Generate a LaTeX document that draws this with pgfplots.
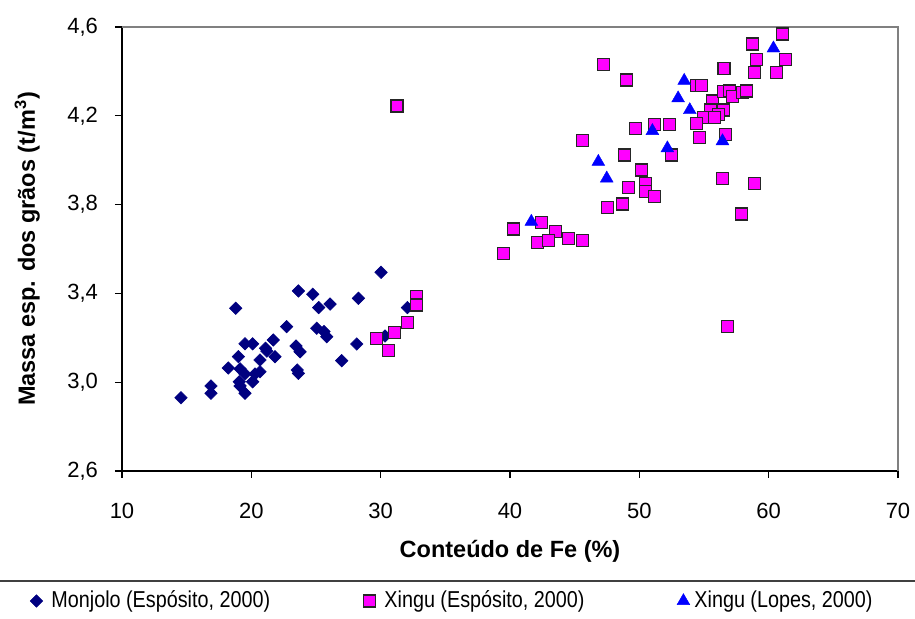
\documentclass[border=0pt]{standalone}
\usepackage{pgfplots}
\pgfplotsset{compat=1.18}
\usepackage{pgfplotstable}
\usepackage{fontspec}
\setmainfont{Liberation Sans}
\newfontfamily\legendfont[FakeStretch=0.86]{Liberation Sans}

\definecolor{monjolo}{HTML}{000080}
\definecolor{xinguE}{HTML}{FF00FF}
\definecolor{xinguL}{HTML}{0000FF}
\definecolor{plotframe}{HTML}{808080}

% Monjolo (Espósito, 2000)
\pgfplotstableread{
fe rho
14.56 2.930
16.88 2.983
16.88 2.950
18.79 3.333
18.22 3.064
19.00 3.115
19.51 3.173
20.10 3.173
19.13 3.060
19.51 3.037
19.07 3.002
19.13 2.983
19.51 2.950
20.10 3.002
20.29 3.037
20.67 3.047
20.67 3.100
21.10 3.153
21.20 3.140
21.70 3.190
21.83 3.115
22.73 3.250
23.64 3.411
23.46 3.163
23.77 3.137
23.64 3.040
23.55 3.055
24.75 3.396
25.21 3.336
26.09 3.352
25.06 3.243
25.62 3.228
25.83 3.205
26.99 3.097
28.28 3.378
28.15 3.172
30.03 3.495
32.07 3.336
30.34 3.208
}\monjolodata

% Xingu (Espósito, 2000)
\pgfplotstableread{
fe rho
29.70 3.198
30.60 3.141
31.04 3.223
32.07 3.268
32.80 3.385
32.80 3.348
31.27 4.244
40.26 3.690
39.49 3.580
42.46 3.719
43.49 3.678
42.15 3.630
42.97 3.640
44.52 3.648
45.60 3.640
47.56 3.786
48.69 3.803
49.16 3.878
61.07 4.568
58.75 4.523
59.03 4.454
61.33 4.454
58.88 4.396
60.63 4.396
56.54 4.414
47.22 4.432
48.98 4.361
54.39 4.336
54.83 4.336
55.68 4.267
56.50 4.309
57.00 4.312
57.20 4.286
58.00 4.304
58.31 4.312
56.50 4.226
55.52 4.226
56.12 4.207
54.96 4.193
55.81 4.193
54.39 4.166
54.65 4.101
56.69 4.117
49.68 4.144
51.17 4.159
52.33 4.159
45.60 4.088
52.46 4.023
48.83 4.023
50.14 3.956
50.45 3.896
50.45 3.858
51.17 3.836
56.43 3.918
58.88 3.896
57.90 3.758
56.84 3.250
}\xinguEdata

% Xingu (Lopes, 2000)
\pgfplotstableread{
fe rho
41.65 3.723
53.47 4.358
53.00 4.279
53.90 4.226
56.43 4.086
51.01 4.132
52.17 4.054
46.83 3.993
47.48 3.918
60.37 4.504
}\xinguLdata

\begin{document}
\begin{tikzpicture}
\useasboundingbox (-61pt,-74pt) rectangle (396.5pt,235.5pt);
\begin{axis}[
  at={(0pt,0pt)}, anchor=south west,
  width=388pt, height=222pt, scale only axis,
  xmin=10, xmax=70, ymin=2.6, ymax=4.6,
  xtick={10,20,30,40,50,60,70},
  ytick={2.6,3.0,3.4,3.8,4.2,4.6},
  axis x line*=bottom, axis y line*=left,
  axis line style={-, black, line width=0.6pt},
  tick align=outside,
  major tick length=3.5pt,
  every tick/.style={black, line width=0.6pt},
  /pgf/number format/assume math mode=true,
  ticklabel style={font=\fontsize{11}{13}\selectfont, black},
  xticklabel style={yshift=-9pt},
  yticklabel style={xshift=-5pt, /pgf/number format/.cd, fixed, fixed zerofill, precision=1, use comma},
  xlabel={Conteúdo de Fe (\%)},
  ylabel={Massa esp. dos grãos (t/m\textsuperscript{3})},
  label style={font=\fontsize{11.75}{14}\selectfont\bfseries},
  xlabel style={at={(axis description cs:0.5,-0.182)}, anchor=center},
  ylabel style={at={(axis description cs:-0.122,0.5)}, anchor=center},
  legend columns=3,
  legend style={draw=none, fill=none, at={(axis description cs:-0.1211,-0.2928)}, anchor=west,
    inner sep=0pt, column sep=0pt, row sep=0pt, nodes={inner sep=0pt},
    font=\legendfont\fontsize{11.5}{13}\selectfont},
  % fixed 8pt cell for every legend mark, mark centred in it
  legend image code/.code={%
    \pgfpathrectangle{\pgfpoint{-4pt}{-4pt}}{\pgfpoint{8pt}{8pt}}%
    \pgfusepath{use as bounding box}%
    \draw[#1] plot coordinates {(0pt,0pt)};},
  clip=false,
]
\addplot[only marks, mark=square*, mark size=2.2pt,
  mark options={rotate=45, fill=monjolo, draw=monjolo, line width=0.3pt}]
  table[x=fe, y=rho] {\monjolodata};
\addlegendentry{\makebox[158.5pt][l]{\hspace*{3.5pt}Monjolo (Espósito, 2000)}}

\addplot[only marks, mark=square*, mark size=3.0pt,
  mark options={fill=xinguE, draw=black!85, line width=0.6pt}]
  table[x=fe, y=rho] {\xinguEdata};
\addlegendentry{\makebox[149pt][l]{\hspace*{3.5pt}Xingu (Espósito, 2000)}}

\addplot[only marks, mark=triangle*, mark size=3.7pt,
  mark options={fill=xinguL, draw=xinguL, line width=0.2pt}]
  table[x=fe, y=rho] {\xinguLdata};
\addlegendentry{\hspace*{1.5pt}Xingu (Lopes, 2000)}

\draw[plotframe, line width=0.6pt] (rel axis cs:0,1) -- (rel axis cs:1,1) -- (rel axis cs:1,0);
\end{axis}
\draw[black!75, line width=0.9pt] (-61pt,-55pt) -- (396.5pt,-55pt);
\end{tikzpicture}
\end{document}
